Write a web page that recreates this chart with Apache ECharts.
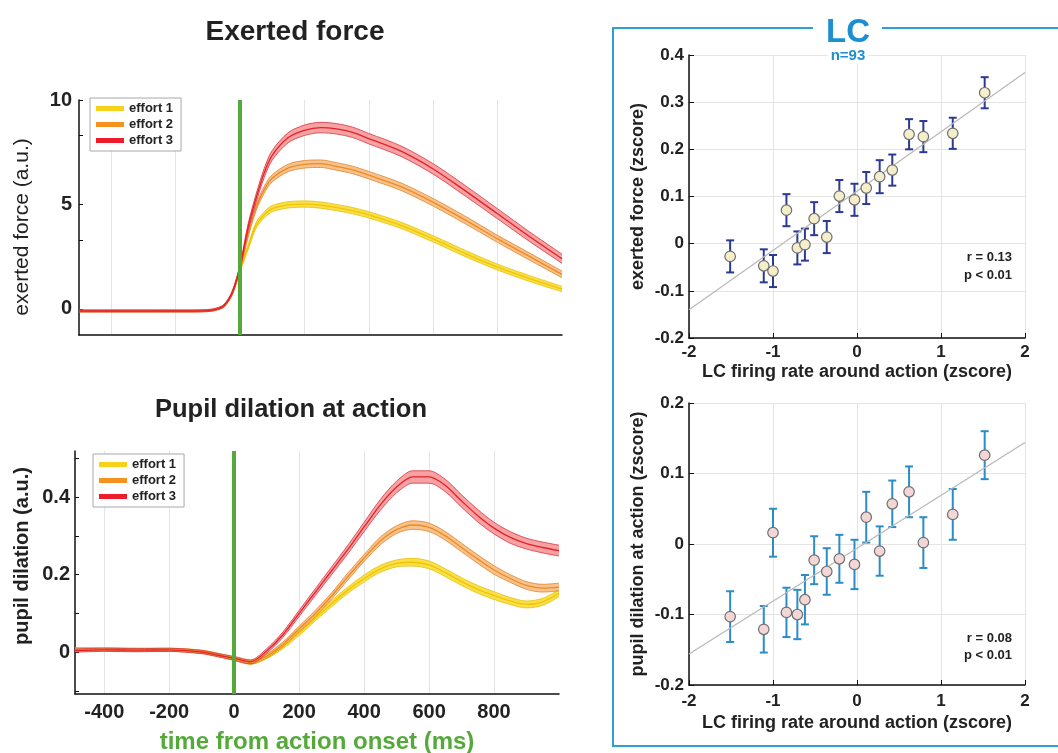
<!DOCTYPE html>
<html>
<head>
<meta charset="utf-8">
<script src="https://cdn.jsdelivr.net/npm/echarts@6.0.0/dist/echarts.min.js"></script>
<style>
  html, body { margin: 0; padding: 0; background: #fff; }
  #chart { width: 1058px; height: 753px; }
</style>
</head>
<body>
<div id="chart"></div>
<script>
var FONT = '"Liberation Sans", Arial, Helvetica, sans-serif';

// --- exerted force (a.u.), mean and sem per effort level
var forceTime = [-500, -400, -300, -200, -150, -100, -75, -50, -25, 0, 25, 50, 75, 100, 150, 200, 250, 300, 350, 400, 500, 600, 700, 800, 900, 1000];
var force1 = [-0.1, -0.1, -0.1, -0.1, -0.1, -0.08, -0.02, 0.14, 0.7, 1.85, 2.95, 4.0, 4.5, 4.8, 4.98, 5.02, 4.97, 4.85, 4.7, 4.5, 4.0, 3.35, 2.65, 2.0, 1.45, 0.95];
var force2 = [-0.1, -0.1, -0.1, -0.1, -0.1, -0.08, -0.02, 0.15, 0.72, 1.95, 3.55, 4.85, 5.7, 6.25, 6.75, 6.92, 6.95, 6.82, 6.65, 6.4, 5.85, 5.1, 4.25, 3.35, 2.5, 1.65];
var force3 = [-0.1, -0.1, -0.1, -0.1, -0.1, -0.08, -0.02, 0.15, 0.75, 2.0, 3.9, 5.3, 6.5, 7.35, 8.2, 8.55, 8.68, 8.62, 8.45, 8.15, 7.55, 6.7, 5.65, 4.55, 3.45, 2.4];
var force1Sem = [0.04, 0.04, 0.04, 0.04, 0.04, 0.04, 0.04, 0.05, 0.07, 0.09, 0.12, 0.14, 0.15, 0.15, 0.15, 0.15, 0.15, 0.15, 0.15, 0.15, 0.15, 0.15, 0.15, 0.14, 0.14, 0.13];
var force2Sem = [0.04, 0.04, 0.04, 0.04, 0.04, 0.04, 0.04, 0.05, 0.07, 0.1, 0.13, 0.15, 0.16, 0.17, 0.18, 0.18, 0.18, 0.18, 0.18, 0.18, 0.18, 0.18, 0.18, 0.17, 0.17, 0.16];
var force3Sem = [0.05, 0.05, 0.05, 0.05, 0.05, 0.05, 0.05, 0.06, 0.08, 0.12, 0.16, 0.2, 0.22, 0.23, 0.24, 0.25, 0.25, 0.25, 0.25, 0.25, 0.25, 0.25, 0.25, 0.24, 0.23, 0.22];

// --- pupil dilation (a.u.)
var pupilTime = [-490, -400, -300, -200, -100, -50, 0, 50, 100, 150, 200, 250, 300, 350, 400, 450, 500, 550, 600, 650, 700, 750, 800, 850, 900, 950, 1000];
var pupil1 = [0.007, 0.007, 0.006, 0.006, 0.001, -0.007, -0.017, -0.026, -0.012, 0.015, 0.05, 0.088, 0.125, 0.16, 0.19, 0.215, 0.229, 0.232, 0.225, 0.205, 0.182, 0.162, 0.146, 0.132, 0.123, 0.13, 0.152];
var pupil2 = [0.007, 0.007, 0.006, 0.006, 0.001, -0.007, -0.017, -0.026, -0.01, 0.02, 0.06, 0.1, 0.145, 0.195, 0.243, 0.287, 0.316, 0.328, 0.322, 0.3, 0.27, 0.24, 0.212, 0.19, 0.172, 0.165, 0.168];
var pupil3 = [0.004, 0.006, 0.005, 0.006, 0.0, -0.008, -0.016, -0.025, 0.003, 0.045, 0.1, 0.155, 0.21, 0.265, 0.323, 0.38, 0.426, 0.452, 0.452, 0.43, 0.39, 0.352, 0.32, 0.296, 0.28, 0.27, 0.262];
var pupil1Sem = [0.004, 0.004, 0.004, 0.004, 0.004, 0.004, 0.004, 0.005, 0.005, 0.006, 0.007, 0.007, 0.008, 0.008, 0.009, 0.009, 0.009, 0.01, 0.01, 0.01, 0.01, 0.01, 0.01, 0.009, 0.009, 0.009, 0.009];
var pupil2Sem = [0.004, 0.004, 0.004, 0.004, 0.004, 0.004, 0.004, 0.005, 0.005, 0.006, 0.007, 0.008, 0.008, 0.009, 0.009, 0.01, 0.01, 0.011, 0.011, 0.011, 0.011, 0.011, 0.011, 0.01, 0.01, 0.01, 0.01];
var pupil3Sem = [0.004, 0.004, 0.004, 0.004, 0.004, 0.004, 0.005, 0.005, 0.006, 0.007, 0.008, 0.009, 0.01, 0.011, 0.012, 0.014, 0.015, 0.016, 0.016, 0.016, 0.016, 0.016, 0.015, 0.015, 0.014, 0.014, 0.014];

var onsetTime = 0;
var timeTicks = [-400, -200, 0, 200, 400, 600, 800];
var forceTicks = [0, 3.3, 5, 8.3, 10];
var forceLabels = [0, 5, 10];
var pupilTicks = [-0.1, 0, 0.1, 0.2, 0.3, 0.4, 0.5];
var pupilLabels = [0, 0.2, 0.4];
var effortNames = ['effort 1', 'effort 2', 'effort 3'];

// --- LC binned firing rate vs behaviour (zscore)
var lcRate = [-1.51, -1.11, -1.0, -0.84, -0.71, -0.62, -0.51, -0.36, -0.21, -0.03, 0.11, 0.27, 0.42, 0.62, 0.79, 1.14, 1.52];
var lcForce = [-0.027, -0.047, -0.058, 0.071, -0.009, -0.002, 0.053, 0.014, 0.101, 0.093, 0.118, 0.142, 0.156, 0.232, 0.227, 0.234, 0.320];
var lcForceErr = [0.034, 0.035, 0.034, 0.034, 0.035, 0.034, 0.035, 0.034, 0.034, 0.034, 0.034, 0.035, 0.033, 0.032, 0.033, 0.033, 0.033];
var lcPupil = [-0.103, -0.121, 0.016, -0.097, -0.100, -0.079, -0.023, -0.039, -0.021, -0.029, 0.038, -0.010, 0.057, 0.074, 0.002, 0.042, 0.126];
var lcPupilErr = [0.036, 0.033, 0.034, 0.035, 0.035, 0.035, 0.034, 0.033, 0.034, 0.035, 0.036, 0.035, 0.033, 0.036, 0.036, 0.036, 0.034];
var fitX = [-2, 2];
var fitForce = [-0.14, 0.363];
var fitPupil = [-0.156, 0.144];

var effortColors = [
  { line: '#f2c400', edge: '#e9bf00', fill: '#f8e04c', legend: '#f7d21a' },
  { line: '#ee8a22', edge: '#e2832a', fill: '#f8c28c', legend: '#f5911e' },
  { line: '#e4202c', edge: '#d93440', fill: '#f6a2a2', legend: '#ee1c2a' }
];

function pairs(xs, ys) {
  return xs.map(function (x, i) { return [x, ys[i]]; });
}

// band (mean +- sem) as a stacked area; values come first so the stack is on y
function bandSeries(axis, time, mean, sem, k) {
  var c = effortColors[k];
  var stackId = 'band' + axis + '_' + k;
  var lower = time.map(function (t, i) { return [mean[i] - sem[i], t]; });
  var width = time.map(function (t, i) { return [2 * sem[i], t]; });
  var common = { type: 'line', xAxisIndex: axis, yAxisIndex: axis, smooth: 0.3, symbol: 'none', silent: true, animation: false };
  return [
    Object.assign({}, common, { data: lower, encode: { x: 1, y: 0 }, stack: stackId, stackStrategy: 'all',
      lineStyle: { color: c.edge, width: 0.8 } }),
    Object.assign({}, common, { data: width, encode: { x: 1, y: 0 }, stack: stackId, stackStrategy: 'all',
      lineStyle: { color: c.edge, width: 0.8 }, areaStyle: { color: c.fill, opacity: 1 } }),
    Object.assign({}, common, { name: effortNames[k], data: pairs(time, mean), lineStyle: { color: c.line, width: 1.3 }, itemStyle: { color: c.legend } })
  ];
}

function onsetLine(axis) {
  return {
    type: 'line', xAxisIndex: axis, yAxisIndex: axis, data: [], silent: true, animation: false,
    markLine: {
      symbol: ['none', 'none'], silent: true, animation: false, label: { show: false },
      lineStyle: { color: '#55a93a', width: 4, type: 'solid' },
      data: [{ xAxis: onsetTime }]
    }
  };
}

function errorBars(axis, xs, ys, es, color) {
  return {
    type: 'custom', xAxisIndex: axis, yAxisIndex: axis, silent: true, animation: false,
    data: xs.map(function (x, i) { return [x, ys[i], es[i]]; }),
    renderItem: function (params, api) {
      var x = api.value(0), y = api.value(1), e = api.value(2);
      var hi = api.coord([x, y + e]);
      var lo = api.coord([x, y - e]);
      var w = 4;
      var st = { stroke: color, lineWidth: 2 };
      return {
        type: 'group',
        children: [
          { type: 'line', shape: { x1: hi[0], y1: hi[1], x2: lo[0], y2: lo[1] }, style: st },
          { type: 'line', shape: { x1: hi[0] - w, y1: hi[1], x2: hi[0] + w, y2: hi[1] }, style: st },
          { type: 'line', shape: { x1: lo[0] - w, y1: lo[1], x2: lo[0] + w, y2: lo[1] }, style: st }
        ]
      };
    }
  };
}

var tickLabelLeft = { fontFamily: FONT, fontWeight: 'bold', fontSize: 20, color: '#222' };
var tickLabelRight = { fontFamily: FONT, fontWeight: 'bold', fontSize: 17, color: '#222' };
var axisNameRight = { fontFamily: FONT, fontWeight: 'bold', fontSize: 18, color: '#222' };
var blackLine = { onZero: false, lineStyle: { color: '#111', width: 1.5 } };
var lightSplit = { show: true, lineStyle: { color: '#e4e4e4', width: 1 } };

var series = [];
series.push(onsetLine(0));
series.push(onsetLine(1));
[force1, force2, force3].forEach(function (m, k) {
  series = series.concat(bandSeries(0, forceTime, m, [force1Sem, force2Sem, force3Sem][k], k));
});
[pupil1, pupil2, pupil3].forEach(function (m, k) {
  series = series.concat(bandSeries(1, pupilTime, m, [pupil1Sem, pupil2Sem, pupil3Sem][k], k));
});

// LC scatter panels
series.push({ type: 'line', xAxisIndex: 2, yAxisIndex: 2, data: pairs(fitX, fitForce), symbol: 'none', silent: true, animation: false, lineStyle: { color: '#b9b9b9', width: 1.3 } });
series.push(errorBars(2, lcRate, lcForce, lcForceErr, '#2c3a8f'));
series.push({ type: 'scatter', xAxisIndex: 2, yAxisIndex: 2, data: pairs(lcRate, lcForce), symbolSize: 10.5, silent: true, animation: false, z: 5,
  itemStyle: { color: '#f4eecb', borderColor: '#6f6f6f', borderWidth: 1.2, opacity: 1 } });
series.push({ type: 'line', xAxisIndex: 3, yAxisIndex: 3, data: pairs(fitX, fitPupil), symbol: 'none', silent: true, animation: false, lineStyle: { color: '#b9b9b9', width: 1.3 } });
series.push(errorBars(3, lcRate, lcPupil, lcPupilErr, '#2b8cc6'));
series.push({ type: 'scatter', xAxisIndex: 3, yAxisIndex: 3, data: pairs(lcRate, lcPupil), symbolSize: 10.5, silent: true, animation: false, z: 5,
  itemStyle: { color: '#f3d7d7', borderColor: '#6f6f6f', borderWidth: 1.2, opacity: 1 } });

function effortLegend(left, top) {
  return {
    left: left, top: top, orient: 'vertical', icon: 'rect', itemWidth: 28, itemHeight: 5, itemGap: 3,
    padding: [4, 8, 4, 6], borderColor: '#a8a8a8', borderWidth: 1, backgroundColor: '#fff',
    selectedMode: false,
    textStyle: { fontFamily: FONT, fontWeight: 'bold', fontSize: 13, color: '#222' },
    data: effortNames.map(function (n, k) { return { name: n, itemStyle: { color: effortColors[k].legend } }; })
  };
}

function txt(text, x, y, size, color, bg, weight, rot) {
  var st = { text: text, fill: color, font: (weight || 'bold') + ' ' + size + 'px ' + FONT, textAlign: 'center', textVerticalAlign: 'middle' };
  if (bg) { st.backgroundColor = bg; st.padding = [0, 3]; }
  return { type: 'text', x: x, y: y, rotation: rot || 0, silent: true, z: 10, style: st };
}
function txtRight(text, x, y, size) {
  return { type: 'text', x: x, y: y, silent: true,
    style: { text: text, fill: '#222', font: 'bold ' + size + 'px ' + FONT, textAlign: 'right', textVerticalAlign: 'middle' } };
}

var option = {
  backgroundColor: '#fff',
  animation: false,
  grid: [
    { left: 79, top: 100, width: 483, height: 235, outerBoundsMode: 'none' },
    { left: 75, top: 451, width: 484, height: 243, outerBoundsMode: 'none' },
    { left: 689, top: 55, width: 336, height: 283, outerBoundsMode: 'none' },
    { left: 689, top: 403, width: 336, height: 282, outerBoundsMode: 'none' }
  ],
  legend: [effortLegend(90, 98), effortLegend(93, 454)],
  xAxis: [
    { type: 'value', gridIndex: 0, min: -500, max: 1000,
      axisLine: blackLine, axisTick: { show: false, customValues: timeTicks }, axisLabel: { show: false, customValues: timeTicks },
      splitLine: lightSplit },
    { type: 'value', gridIndex: 1, min: -490, max: 1000,
      axisLine: blackLine, axisTick: { show: false, customValues: timeTicks },
      axisLabel: Object.assign({ customValues: timeTicks, margin: 8 }, tickLabelLeft),
      splitLine: lightSplit,
      name: 'time from action onset (ms)', nameLocation: 'middle', nameGap: 36,
      nameTextStyle: { fontFamily: FONT, fontWeight: 'bold', fontSize: 24, color: '#55a93a' } },
    { type: 'value', gridIndex: 2, min: -2, max: 2, interval: 1,
      axisLine: blackLine, axisTick: { inside: true, length: 5, lineStyle: { color: '#111' } },
      axisLabel: Object.assign({ margin: 6 }, tickLabelRight), splitLine: lightSplit,
      name: 'LC firing rate around action (zscore)', nameLocation: 'middle', nameGap: 25,
      nameTextStyle: axisNameRight },
    { type: 'value', gridIndex: 3, min: -2, max: 2, interval: 1,
      axisLine: blackLine, axisTick: { inside: true, length: 5, lineStyle: { color: '#111' } },
      axisLabel: Object.assign({ margin: 8 }, tickLabelRight), splitLine: lightSplit,
      name: 'LC firing rate around action (zscore)', nameLocation: 'middle', nameGap: 29,
      nameTextStyle: axisNameRight }
  ],
  yAxis: [
    { type: 'value', gridIndex: 0, min: -1.25, max: 10,
      axisLine: blackLine, axisTick: { inside: true, length: 4, customValues: forceTicks, lineStyle: { color: '#111' } },
      axisLabel: Object.assign({ customValues: forceLabels, margin: 7 }, tickLabelLeft), splitLine: { show: false } },
    { type: 'value', gridIndex: 1, min: -0.108, max: 0.519,
      axisLine: blackLine, axisTick: { inside: true, length: 4, customValues: pupilTicks, lineStyle: { color: '#111' } },
      axisLabel: Object.assign({ customValues: pupilLabels, margin: 5 }, tickLabelLeft), splitLine: { show: false } },
    { type: 'value', gridIndex: 2, min: -0.2, max: 0.4, interval: 0.1,
      axisLine: blackLine, axisTick: { inside: true, length: 5, lineStyle: { color: '#111' } },
      axisLabel: Object.assign({ margin: 5 }, tickLabelRight), splitLine: lightSplit,
      name: 'exerted force (zscore)', nameLocation: 'middle', nameGap: 42,
      nameTextStyle: axisNameRight },
    { type: 'value', gridIndex: 3, min: -0.2, max: 0.2, interval: 0.1,
      axisLine: blackLine, axisTick: { inside: true, length: 5, lineStyle: { color: '#111' } },
      axisLabel: Object.assign({ margin: 5 }, tickLabelRight), splitLine: lightSplit,
      name: 'pupil dilation at action (zscore)', nameLocation: 'middle', nameGap: 42,
      nameTextStyle: axisNameRight }
  ],
  graphic: [
    txt('Exerted force', 295, 32, 28, '#222'),
    txt('Pupil dilation at action', 291, 410, 25.5, '#222'),
    txt('exerted force (a.u.)', 22, 227, 21, '#222', null, 'normal', Math.PI / 2),
    txt('pupil dilation (a.u.)', 22, 556, 20, '#222', null, 'bold', Math.PI / 2),
    { type: 'polyline', silent: true, shape: { points: [[813, 28], [613, 28], [613, 746], [1062, 746]] },
      style: { stroke: '#2d9fd9', lineWidth: 2, fill: null } },
    { type: 'line', silent: true, shape: { x1: 882, y1: 28, x2: 1062, y2: 28 }, style: { stroke: '#2d9fd9', lineWidth: 2 } },
    txt('LC', 848, 33, 33, '#1b8fd2'),
    txt('n=93', 848, 56, 15, '#1b8fd2', '#fff'),
    txtRight('r = 0.13', 1012, 257, 13),
    txtRight('p < 0.01', 1012, 275, 13),
    txtRight('r = 0.08', 1012, 638, 13),
    txtRight('p < 0.01', 1012, 655, 13)
  ],
  series: series
};

var chart = echarts.init(document.getElementById('chart'));
chart.setOption(option);
</script>
</body>
</html>
